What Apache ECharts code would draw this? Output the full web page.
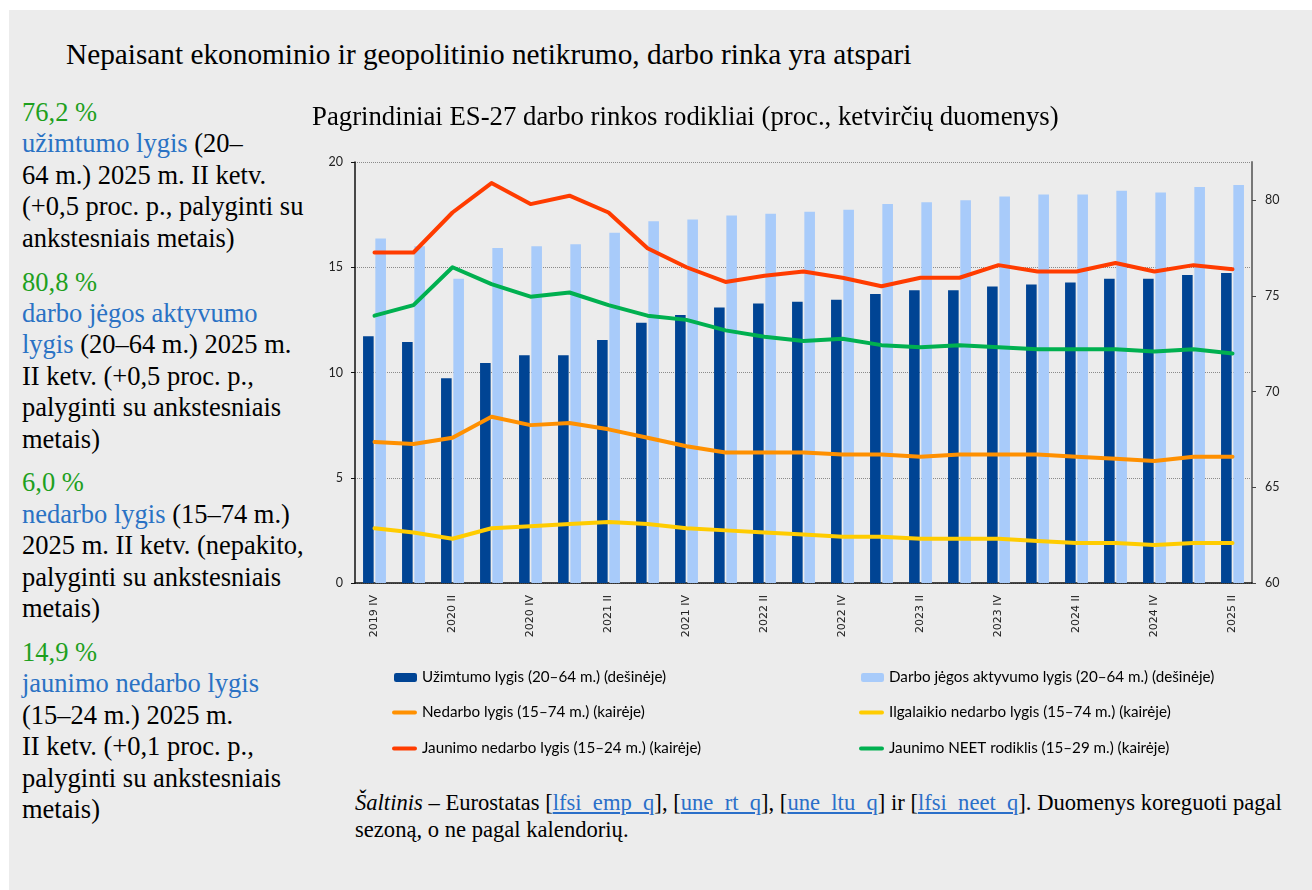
<!DOCTYPE html>
<html>
<head>
<meta charset="utf-8">
<script src="https://cdn.jsdelivr.net/npm/echarts@6/dist/echarts.min.js"></script>
<style>
  html, body { margin: 0; padding: 0; background: #fff; }
  body { width: 1312px; height: 890px; position: relative; overflow: hidden; }
  #panel { position: absolute; left: 9px; top: 10px; right: 0; bottom: 0; background: #ececec; }
  #main { position: absolute; left: 0; top: 0; width: 1312px; height: 890px; }
  .serif { font-family: "Liberation Serif", "Times New Roman", serif; color: #000; }
  #head { position: absolute; left: 66px; top: 38px; font-size: 29.3px; white-space: nowrap; }
  #side { position: absolute; left: 22px; top: 97px; font-size: 26.5px; line-height: 31.4px; white-space: nowrap; }
  #side p { margin: 0 0 12.5px 0; }
  .g { color: #1ea01e; }
  .b { color: #2a72c4; }
  #src { position: absolute; left: 355px; top: 789px; font-size: 22.6px; line-height: 27px; white-space: nowrap; }
  #src a { color: #2a6fc9; text-decoration: underline; }
</style>
</head>
<body>
<div id="panel"></div>
<div id="head" class="serif">Nepaisant ekonominio ir geopolitinio netikrumo, darbo rinka yra atspari</div>
<div id="side" class="serif">
  <p><span class="g">76,2 %</span><br><span class="b">užimtumo lygis</span> (20–<br>64 m.) 2025 m. II ketv.<br>(+0,5 proc. p., palyginti su<br>ankstesniais metais)</p>
  <p><span class="g">80,8 %</span><br><span class="b">darbo jėgos aktyvumo</span><br><span class="b">lygis</span> (20–64 m.) 2025 m.<br>II ketv. (+0,5 proc. p.,<br>palyginti su ankstesniais<br>metais)</p>
  <p><span class="g">6,0 %</span><br><span class="b">nedarbo lygis</span> (15–74 m.)<br>2025 m. II ketv. (nepakito,<br>palyginti su ankstesniais<br>metais)</p>
  <p><span class="g">14,9 %</span><br><span class="b">jaunimo nedarbo lygis</span><br>(15–24 m.) 2025 m.<br>II ketv. (+0,1 proc. p.,<br>palyginti su ankstesniais<br>metais)</p>
</div>
<div id="src" class="serif"><i>Šaltinis</i> – Eurostatas [<a>lfsi_emp_q</a>], [<a>une_rt_q</a>], [<a>une_ltu_q</a>] ir [<a>lfsi_neet_q</a>]. Duomenys koreguoti pagal<br>sezoną, o ne pagal kalendorių.</div>
<div id="main"></div>
<script>
// ketvirčiai
var quarters = ['2019 IV','2020 I','2020 II','2020 III','2020 IV','2021 I','2021 II','2021 III','2021 IV',
  '2022 I','2022 II','2022 III','2022 IV','2023 I','2023 II','2023 III','2023 IV',
  '2024 I','2024 II','2024 III','2024 IV','2025 I','2025 II'];

// dešinė ašis
var employment = [72.9,72.6,70.7,71.5,71.9,71.9,72.7,73.6,74.0,74.4,74.6,74.7,74.8,75.1,75.3,75.3,75.5,75.6,75.7,75.9,75.9,76.1,76.2];
var activity = [78.0,77.6,75.9,77.5,77.6,77.7,78.3,78.9,79.0,79.2,79.3,79.4,79.5,79.8,79.9,80.0,80.2,80.3,80.3,80.5,80.4,80.7,80.8];

// kairė ašis
var unemployment = [6.7,6.6,6.9,7.9,7.5,7.6,7.3,6.9,6.5,6.2,6.2,6.2,6.1,6.1,6.0,6.1,6.1,6.1,6.0,5.9,5.8,6.0,6.0];
var longTerm = [2.6,2.4,2.1,2.6,2.7,2.8,2.9,2.8,2.6,2.5,2.4,2.3,2.2,2.2,2.1,2.1,2.1,2.0,1.9,1.9,1.8,1.9,1.9];
var youth = [15.7,15.7,17.6,19.0,18.0,18.4,17.6,15.9,15.0,14.3,14.6,14.8,14.5,14.1,14.5,14.5,15.1,14.8,14.8,15.2,14.8,15.1,14.9];
var neet = [12.7,13.2,15.0,14.2,13.6,13.8,13.2,12.7,12.5,12.0,11.7,11.5,11.6,11.3,11.2,11.3,11.2,11.1,11.1,11.1,11.0,11.1,10.9];

var rightTicks = [60,65,70,75,80];

var names = [
  'Užimtumo lygis (20–64 m.) (dešinėje)',
  'Darbo jėgos aktyvumo lygis (20–64 m.) (dešinėje)',
  'Nedarbo lygis (15–74 m.) (kairėje)',
  'Ilgalaikio nedarbo lygis (15–74 m.) (kairėje)',
  'Jaunimo nedarbo lygis (15–24 m.) (kairėje)',
  'Jaunimo NEET rodiklis (15–29 m.) (kairėje)'
];

var capsule = 'path://M2,0L23,0A2,2,0,0,1,23,4L2,4A2,2,0,0,1,2,0Z';
var legendFont = {fontFamily: 'Lato', fontSize: 15.2, color: '#000'};

function barLegend(name, left, top){
  return {
    data: [name], left: left, top: top, padding: 0,
    itemWidth: 23, itemHeight: 9,
    textStyle: legendFont
  };
}
function lineLegend(name, left, top){
  return {
    data: [{name: name, icon: capsule}], left: left, top: top, padding: 0,
    itemWidth: 25, itemHeight: 4,
    textStyle: legendFont
  };
}

function lineSeries(name, data, color){
  return {
    name: name, type: 'line', yAxisIndex: 0, data: data,
    symbol: 'none', smooth: false,
    lineStyle: {color: color, width: 4, cap: 'round', join: 'round'},
    itemStyle: {color: color}
  };
}

var myChart = echarts.init(document.getElementById('main'), null, {renderer: 'canvas'});
var option = {
  backgroundColor: 'transparent',
  animation: false,
  title: {
    text: 'Pagrindiniai ES-27 darbo rinkos rodikliai (proc., ketvirčių duomenys)',
    left: 312, top: 104, padding: 0,
    textStyle: {fontFamily: 'Liberation Serif', fontSize: 26.75, fontWeight: 'normal', color: '#000'}
  },
  legend: [
    barLegend(names[0], 394, 670),
    barLegend(names[1], 861, 670),
    lineLegend(names[2], 392, 705),
    lineLegend(names[3], 859, 705),
    lineLegend(names[4], 392, 741),
    lineLegend(names[5], 859, 741)
  ],
  grid: {left: 355, top: 162, width: 897, height: 421, containLabel: false},
  xAxis: {
    type: 'category', data: quarters, boundaryGap: true,
    axisLine: {lineStyle: {color: '#111', width: 1.5}},
    axisTick: {interval: 0, length: 5, lineStyle: {color: '#111'}},
    axisLabel: {interval: 1, rotate: 90, margin: 12, fontFamily: 'DejaVu Sans', fontSize: 11, color: '#222'}
  },
  yAxis: [
    {
      type: 'value', min: 0, max: 20, interval: 5, position: 'left',
      axisLine: {show: true, lineStyle: {color: '#111', width: 1.5}},
      axisTick: {show: true, length: 4, lineStyle: {color: '#111'}},
      axisLabel: {margin: 12, fontFamily: 'Lato', fontSize: 12.5, color: '#222'},
      splitLine: {show: true, lineStyle: {color: '#8a8a8a', type: 'dotted', width: 1}}
    },
    {
      type: 'value', min: 60, max: 82, position: 'right',
      axisLine: {show: true, lineStyle: {color: '#777', width: 2}},
      axisTick: {show: true, length: 4, customValues: rightTicks, lineStyle: {color: '#444'}},
      axisLabel: {margin: 13, customValues: rightTicks, fontFamily: 'Lato', fontSize: 12.5, color: '#222'},
      splitLine: {show: false}
    }
  ],
  series: [
    {
      name: names[0], type: 'bar', yAxisIndex: 1, data: employment,
      barWidth: 10.6, barGap: '16%',
      itemStyle: {color: '#004494'}
    },
    {
      name: names[1], type: 'bar', yAxisIndex: 1, data: activity,
      barWidth: 10.6, barGap: '16%',
      itemStyle: {color: '#a8cbfa'}
    },
    lineSeries(names[2], unemployment, '#ff9000'),
    lineSeries(names[3], longTerm, '#ffcc00'),
    lineSeries(names[4], youth, '#ff3c00'),
    lineSeries(names[5], neet, '#00b050')
  ]
};
myChart.setOption(option);
</script>
</body>
</html>
